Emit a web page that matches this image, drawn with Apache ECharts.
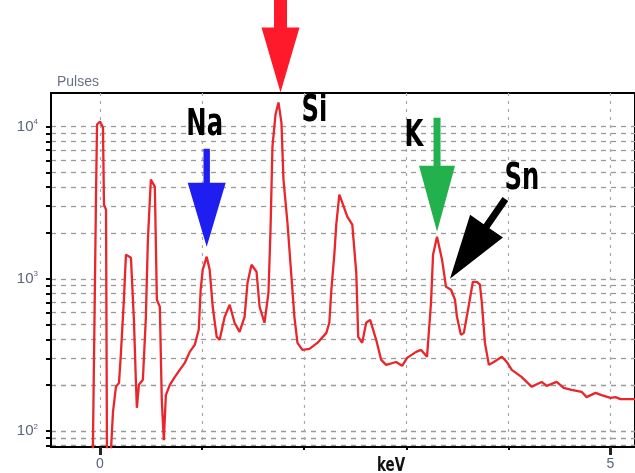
<!DOCTYPE html>
<html><head><meta charset="utf-8">
<script src="https://cdn.jsdelivr.net/npm/echarts@6/dist/echarts.min.js"></script>
<style>html,body{margin:0;padding:0;background:#fff}#c{width:635px;height:473px}</style>
</head><body><div id="c"></div>
<script>
// ---- data ----
const energyKeV = [-0.07,-0.039,-0.029,0.0,0.029,0.039,0.059,0.068,0.107,0.127,0.156,0.186,0.205,0.234,0.254,0.303,0.332,0.352,0.361,0.381,0.420,0.449,0.469,0.498,0.537,0.557,0.586,0.605,0.625,0.645,0.684,0.732,0.781,0.830,0.879,0.928,0.967,0.986,1.006,1.045,1.074,1.104,1.143,1.172,1.221,1.270,1.318,1.367,1.416,1.445,1.484,1.533,1.563,1.611,1.650,1.670,1.689,1.719,1.748,1.777,1.797,1.836,1.875,1.904,1.934,1.982,2.051,2.129,2.217,2.246,2.266,2.295,2.314,2.344,2.373,2.422,2.471,2.510,2.529,2.568,2.607,2.646,2.705,2.754,2.803,2.900,2.959,3.008,3.096,3.145,3.203,3.242,3.262,3.301,3.350,3.389,3.438,3.477,3.496,3.535,3.564,3.613,3.652,3.691,3.721,3.740,3.770,3.809,3.857,3.936,3.984,4.033,4.131,4.229,4.268,4.326,4.375,4.473,4.541,4.619,4.717,4.766,4.854,4.912,5.0,5.049,5.098,5.24];
const pulses = [74,3570,10300,10800,9840,3070,2840,74,74,133,195,207,326,728,1440,1375,537,207,142,201,217,553,1807,4480,4030,728,655,160,87,172,201,226,252,280,331,368,462,847,1146,1396,1146,655,415,397,562,675,514,448,562,942,1236,1112,655,514,809,2100,7380,12000,14400,10600,4480,2333,1030,562,379,341,346,379,441,514,847,1440,2265,3570,3162,2559,2265,1094,415,379,514,537,397,293,272,284,268,302,331,341,307,695,1440,1888,1334,885,847,728,562,428,441,675,955,955,914,695,379,272,284,307,284,252,226,195,201,210,198,210,192,186,181,167,178,172,165,167,162,162];

const yTickValues = [80,90,100,200,300,400,500,600,700,800,900,1000,2000,3000,4000,5000,6000,7000,8000,9000,10000];
const yLabelValues = [100,1000,10000];
const xGridValues = [0,1,2,3,4,5];
const xLabelValues = [0,5];

const peakNames  = ['Si','Na','K','Sn'];
const peakEnergy = [1.768,1.045,3.301,3.428];
const peakPulses = [16750,1625,2037,1000];

// ---- styles (not data) ----
const arrowStyle = [
  {color:'#ff1a2b', dir:[0,1],       head:65, headHW:19, shaft:40, shaftHW:6.5, label:[34,19]},
  {color:'#1e1ef0', dir:[0,1],       head:64, headHW:19, shaft:34, shaftHW:3.2, label:[-2,-121]},
  {color:'#22b14c', dir:[0,1],       head:66, headHW:18, shaft:48, shaftHW:3.5, label:[-23,-95]},
  {color:'#000000', dir:[-36.5,52.5],head:64, headHW:20, shaft:33, shaftHW:3.5, label:[72,-99]}
];

const series = energyKeV.map((e,i)=>[e,pulses[i]]);
const chart = echarts.init(document.getElementById('c'));
const sup = {'100':'2','1000':'3','10000':'4'};

chart.setOption({
  animation:false,
  backgroundColor:'#fff',
  grid:{left:51, top:93, bottom:26, right:-2, show:true, borderColor:'#000', borderWidth:2},
  xAxis:[{
    type:'value', min:-0.48, max:5.24, position:'bottom', offset:0,
    axisLine:{show:true, onZero:false, lineStyle:{color:'#000', width:2}},
    axisTick:{show:true, customValues:xGridValues, length:3, lineStyle:{color:'#000', width:2}},
    axisLabel:{show:false},
    splitLine:{show:true, lineStyle:{color:'#aaa', type:[3,5], width:1.2}}
  },{
    type:'value', min:-0.48, max:5.24, position:'bottom', offset:0,
    axisLine:{show:false, onZero:false},
    axisTick:{show:true, customValues:xLabelValues, length:8, lineStyle:{color:'#222', width:3}},
    axisLabel:{show:true, customValues:xLabelValues, margin:10, color:'#5a6478', fontSize:14, fontFamily:'Liberation Sans'},
    splitLine:{show:false}
  }],
  yAxis:{
    type:'log', logBase:10, min:78.5, max:16600,
    name:'Pulses', nameLocation:'end', nameGap:4,
    nameTextStyle:{align:'left', color:'#6a7282', fontSize:14, fontFamily:'Liberation Sans', padding:[0,0,0,6]},
    axisLine:{show:true, onZero:false, lineStyle:{color:'#000', width:2}},
    axisTick:{show:true, customValues:yTickValues, length:5, lineStyle:{color:'#000', width:2}},
    axisLabel:{show:true, customValues:yLabelValues, margin:13, color:'#5a6478', fontFamily:'Liberation Sans',
      formatter:v=>'10{s|'+sup[String(Math.round(v))]+'}',
      rich:{s:{fontSize:8, padding:[0,0,9,0], color:'#5a6478'}}, fontSize:15},
    splitLine:{show:true, lineStyle:{color:'#999', type:[5,5], width:1.3}}
  },
  series:[{
    type:'line', data:series, showSymbol:false, clip:true,
    lineStyle:{color:'#e8262b', width:2.3}, xAxisIndex:0
  }]
});

function arrowPoly(tip, st){
  const len=Math.hypot(st.dir[0],st.dir[1]);
  const ux=st.dir[0]/len, uy=st.dir[1]/len, px=-uy, py=ux;
  const bx=tip[0]-ux*st.head, by=tip[1]-uy*st.head;
  const sx=bx-ux*st.shaft, sy=by-uy*st.shaft;
  return [tip,[bx+px*st.headHW,by+py*st.headHW],[bx+px*st.shaftHW,by+py*st.shaftHW],
    [sx+px*st.shaftHW,sy+py*st.shaftHW],[sx-px*st.shaftHW,sy-py*st.shaftHW],
    [bx-px*st.shaftHW,by-py*st.shaftHW],[bx-px*st.headHW,by-py*st.headHW]];
}

const graphics = [];
peakNames.forEach((name,i)=>{
  const tip = chart.convertToPixel({xAxisIndex:0, yAxisIndex:0},[peakEnergy[i],peakPulses[i]]);
  const st = arrowStyle[i];
  graphics.push({type:'polygon', shape:{points:arrowPoly(tip,st)}, style:{fill:st.color}, z:10});
  graphics.push({type:'text', x:tip[0]+st.label[0], y:tip[1]+st.label[1], scaleY:1.35, z:10,
    style:{text:name, font:'bold 27px "DejaVu Sans Condensed", "DejaVu Sans"', fill:'#000', textAlign:'center', textVerticalAlign:'middle'}});
});
graphics.push({type:'text', x:391, y:466, scaleY:1.3, style:{text:'keV', font:'bold 15px "DejaVu Sans Condensed", "DejaVu Sans"', fill:'#111', textAlign:'center', textVerticalAlign:'middle'}});
chart.setOption({graphic:graphics});
</script></body></html>
